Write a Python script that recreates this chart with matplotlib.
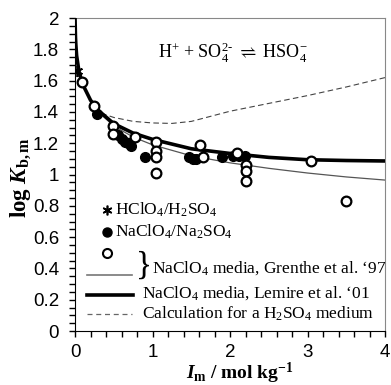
import matplotlib
matplotlib.use("Agg")
import matplotlib.pyplot as plt
from matplotlib.ticker import MultipleLocator

plt.rcParams['mathtext.fontset'] = 'custom'
plt.rcParams['mathtext.rm'] = 'Liberation Serif'
plt.rcParams['mathtext.it'] = 'Liberation Serif:italic'
plt.rcParams['mathtext.bf'] = 'Liberation Serif:bold'
plt.rcParams['mathtext.bfit'] = 'Liberation Serif:italic:bold'
plt.rcParams['font.family'] = 'Liberation Serif'

# --- data ---
star_x = [0.03]
star_y = [1.66]

filled_x = [0.28, 0.55, 0.60, 0.65, 0.68, 0.72, 0.90, 1.47, 1.52, 1.56, 1.90, 2.04, 2.12, 2.19]
filled_y = [1.385, 1.25, 1.23, 1.21, 1.20, 1.18, 1.11, 1.11, 1.10, 1.10, 1.11, 1.12, 1.12, 1.12]

open_x = [0.086, 0.245, 0.49, 0.49, 0.77, 1.045, 1.045, 1.045, 1.045, 1.61, 1.65, 2.09, 2.21, 2.21, 2.21, 3.05, 3.50]
open_y = [1.59, 1.44, 1.31, 1.26, 1.24, 1.21, 1.15, 1.11, 1.01, 1.19, 1.11, 1.135, 1.06, 1.02, 0.96, 1.086, 0.83]

lemire_x = [0.0, 0.005, 0.01, 0.02, 0.05, 0.1, 0.2, 0.3, 0.5, 0.75, 1.0, 1.5, 2.0, 2.5, 3.0, 3.5, 4.0]
lemire_y = [1.99, 1.88, 1.83, 1.76, 1.66, 1.575, 1.475, 1.41, 1.325, 1.265, 1.225, 1.165, 1.135, 1.11, 1.095, 1.09, 1.087]

grenthe_x = [0.0, 0.005, 0.01, 0.02, 0.05, 0.1, 0.2, 0.3, 0.5, 0.75, 1.0, 1.5, 2.0, 2.5, 3.0, 3.5, 4.0]
grenthe_y = [1.99, 1.88, 1.83, 1.76, 1.66, 1.575, 1.47, 1.40, 1.31, 1.24, 1.19, 1.12, 1.075, 1.04, 1.01, 0.985, 0.965]

h2so4_x = [0.25, 0.35, 0.5, 0.75, 1.0, 1.25, 1.5, 2.0, 2.5, 3.0, 3.5, 4.0]
h2so4_y = [1.43, 1.39, 1.365, 1.34, 1.33, 1.327, 1.34, 1.405, 1.455, 1.505, 1.56, 1.62]

xticks = [0, 1, 2, 3, 4]
xticklabels = ['0', '1', '2', '3', '4']
yticks = [0, 0.2, 0.4, 0.6, 0.8, 1.0, 1.2, 1.4, 1.6, 1.8, 2.0]
yticklabels = ['0', '0.2', '0.4', '0.6', '0.8', '1', '1.2', '1.4', '1.6', '1.8', '2']

fig = plt.figure(figsize=(3.91, 3.85), dpi=100)
ax = fig.add_axes([0.192, 0.140, 0.793, 0.813])

ax.plot(grenthe_x, grenthe_y, color='#555555', lw=0.9, zorder=2)
ax.plot(lemire_x, lemire_y, color='black', lw=2.6, zorder=3)
ax.plot(h2so4_x, h2so4_y, color='#444444', lw=0.8, dashes=(5, 3), zorder=2)
ax.plot(filled_x, filled_y, 'o', ms=7, color='black', zorder=4)
ax.plot(open_x, open_y, 'o', ms=7, mfc='white', mec='black', mew=1.6, zorder=5)
ax.plot(star_x, star_y, marker=(6, 2, 0), ms=8, color='black', mew=1.3, ls='none', zorder=6)

ax.set_xlim(0, 4)
ax.set_ylim(0, 2)
ax.set_xticks(xticks)
ax.set_xticklabels(xticklabels, fontfamily='Liberation Sans', fontsize=13.5)
ax.set_yticks(yticks)
ax.set_yticklabels(yticklabels, fontfamily='Liberation Sans', fontsize=13.5)
ax.xaxis.set_minor_locator(MultipleLocator(0.2))
ax.yaxis.set_minor_locator(MultipleLocator(0.05))
ax.tick_params(which='major', direction='out', length=4, width=1)
ax.tick_params(which='minor', direction='out', length=4, width=1)
ax.tick_params(axis='y', which='major', pad=7.5)
ax.tick_params(axis='x', which='major', pad=5.5)
for s in ['top', 'right']:
    ax.spines[s].set_color('#888888')
for s in ['left', 'bottom']:
    ax.spines[s].set_color('black')

ax.set_ylabel(r'$\mathbf{log}\ \mathbfit{K}_{\mathbf{b,m}}$', fontsize=16.5)
ax.yaxis.set_label_coords(-0.174, 0.49)
ax.yaxis.label.set_va('center')
ax.set_xlabel(r'$\mathbfit{I}_{\mathbf{m}}\ \mathbf{/\ mol\ kg^{-1}}$', fontsize=14)
ax.xaxis.set_label_coords(0.532, -0.153)
ax.xaxis.label.set_va('baseline')

ax.text(0.51, 0.89, r'H$^{+}$ + SO$_4^{2\text{-}}$ $\rightleftharpoons$ HSO$_4^{-}$',
        transform=ax.transAxes, ha='center', va='center', fontsize=13)

# legend (manual)
T = ax.transAxes
fs = 12.5
ax.plot([0.103], [0.387], marker=(6, 2, 0), ms=7, color='black', mew=1.2, transform=T)
ax.text(0.128, 0.387, r'HClO$_4$/H$_2$SO$_4$', transform=T, va='center', ha='left', fontsize=fs)
ax.plot([0.103], [0.316], 'o', ms=6.5, color='black', transform=T)
ax.text(0.128, 0.316, r'NaClO$_4$/Na$_2$SO$_4$', transform=T, va='center', ha='left', fontsize=fs)
ax.plot([0.103], [0.249], 'o', ms=6.5, mfc='white', mec='black', mew=1.5, transform=T)
ax.plot([0.039, 0.184], [0.180, 0.180], color='#777777', lw=1.2, transform=T)
ax.text(0.195, 0.208, '}', transform=T, va='center', ha='left', fontsize=24)
ax.text(0.248, 0.200, 'NaClO$_4$ media, Grenthe et al. \u201897', transform=T, va='center', ha='left', fontsize=fs)
ax.plot([0.039, 0.187], [0.115, 0.115], color='black', lw=2.6, transform=T)
ax.text(0.216, 0.121, 'NaClO$_4$ media, Lemire et al. \u201801', transform=T, va='center', ha='left', fontsize=fs)
ax.plot([0.039, 0.184], [0.054, 0.054], color='#666666', lw=0.9, dashes=(4, 3), transform=T)
ax.text(0.216, 0.054, 'Calculation for a H$_2$SO$_4$ medium', transform=T, va='center', ha='left', fontsize=fs)

fig.savefig('out.png', dpi=100)
